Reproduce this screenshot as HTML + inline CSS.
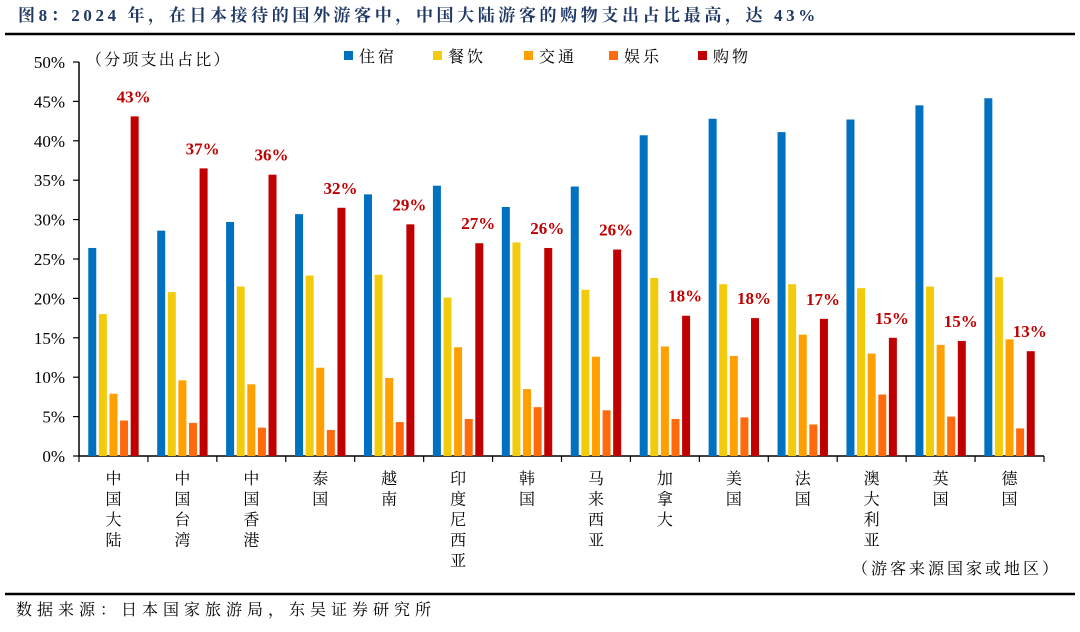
<!DOCTYPE html>
<html><head><meta charset="utf-8"><style>
body{margin:0;background:#fff;width:1080px;height:627px;overflow:hidden;}
svg text{font-family:"Liberation Serif","Noto Serif CJK SC",serif;}
</style></head><body>
<svg id="chart" width="1080" height="627" xmlns="http://www.w3.org/2000/svg">
<text x="18" y="21" font-size="17" font-weight="bold" fill="#1f3864" letter-spacing="3.6">图8：2024 年，在日本接待的国外游客中，中国大陆游客的购物支出占比最高，达 43%</text>
<line x1="5" y1="34" x2="1075" y2="34" stroke="#000" stroke-width="2.5"/>
<line x1="5" y1="594" x2="1075" y2="594" stroke="#000" stroke-width="2.5"/>
<text x="16" y="615" font-size="16" fill="#000" letter-spacing="5">数据来源：日本国家旅游局，东吴证券研究所</text>
<text x="86" y="65" font-size="16" fill="#000" letter-spacing="2.2">（分项支出占比）</text>
<text x="852" y="574" font-size="16" fill="#000" letter-spacing="3">（游客来源国家或地区）</text>
<g id="plot"></g>
</svg>
<script>
const categories=["中国大陆","中国台湾","中国香港","泰国","越南","印度尼西亚","韩国","马来西亚","加拿大","美国","法国","澳大利亚","英国","德国"];
const seriesNames=["住宿","餐饮","交通","娱乐","购物"];
const lodging=[26.4,28.6,29.7,30.7,33.2,34.3,31.6,34.2,40.7,42.8,41.1,42.7,44.5,45.4];
const dining=[18.0,20.8,21.5,22.9,23.0,20.1,27.1,21.1,22.6,21.8,21.8,21.3,21.5,22.7];
const transport=[7.9,9.6,9.1,11.2,9.9,13.8,8.5,12.6,13.9,12.7,15.4,13.0,14.1,14.8];
const entertainment=[4.5,4.2,3.6,3.3,4.3,4.7,6.2,5.8,4.7,4.9,4.0,7.8,5.0,3.5];
const shopping=[43.1,36.5,35.7,31.5,29.4,27.0,26.4,26.2,17.8,17.5,17.4,15.0,14.6,13.3];
const shoppingLabels=["43%","37%","36%","32%","29%","27%","26%","26%","18%","18%","17%","15%","15%","13%"];
const yTicks=[0,5,10,15,20,25,30,35,40,45,50];
const colors=["#0070c0","#f2cc0c","#ffa000","#ff6a0c","#c00000"];
const NS="http://www.w3.org/2000/svg";
const plot=document.getElementById('plot');
const X0=79,X1=1044,Y0=456,Y50=62;
const yScale=v=>Y0-(v/50)*(Y0-Y50);
const gw=(X1-X0)/categories.length;
const xCenter=i=>X0+gw*(i+0.5);
function mk(tag,attrs){const e=document.createElementNS(NS,tag);for(const k in attrs)e.setAttribute(k,attrs[k]);plot.appendChild(e);return e;}
let ax=mk('line',{x1:X0,y1:Y50,x2:X0,y2:Y0,stroke:'#000','stroke-width':1.5});


yTicks.forEach(t=>{
  const y=yScale(t);
  const tk=mk('line',{x1:X0-6,y1:y,x2:X0,y2:y,stroke:'#000','stroke-width':1.2});
  
  
  const tx=mk('text',{x:65,y:y+6,'text-anchor':'end','font-size':17,fill:'#000'});
  tx.textContent=t+'%';
  
  
});
let xa=mk('line',{x1:X0,y1:Y0,x2:X1,y2:Y0,stroke:'#000','stroke-width':1.5});


for(let i=0;i<=categories.length;i++){
  const x=X0+gw*i;
  const tk=mk('line',{x1:x,y1:Y0,x2:x,y2:Y0+6,stroke:'#000','stroke-width':1.2});
  
  
}
const series=[lodging,dining,transport,entertainment,shopping];
const bw=8,step=10.6;
categories.forEach((c,i)=>{
  const cx=xCenter(i);
  series.forEach((s,j)=>{
    const bx=cx+(j-2)*step-bw/2;
    const r=mk('rect',{x:bx,y:yScale(s[i]),width:bw,height:Y0-yScale(s[i]),fill:colors[j]});
    
    
  });
  const lbl=mk('text',{x:cx+2*step-1,y:yScale(shopping[i])-14,'text-anchor':'middle','font-size':17,'font-weight':'bold',fill:'#c00000'});
  lbl.textContent=shoppingLabels[i];
  
  
  [...c].forEach((ch,k)=>{
    const t=mk('text',{x:cx,y:484+k*20.5,'text-anchor':'middle','font-size':16,fill:'#000'});
    t.textContent=ch;
    
    
  });
});
const legX=[344,433,524,609,698];
seriesNames.forEach((n,j)=>{
  const sq=mk('rect',{x:legX[j],y:51,width:9,height:9,fill:colors[j]});
  
  
  const t=mk('text',{x:legX[j]+15,y:62,'font-size':16,fill:'#000','letter-spacing':3});
  t.textContent=n;
  
  
});
</script>
</body></html>
